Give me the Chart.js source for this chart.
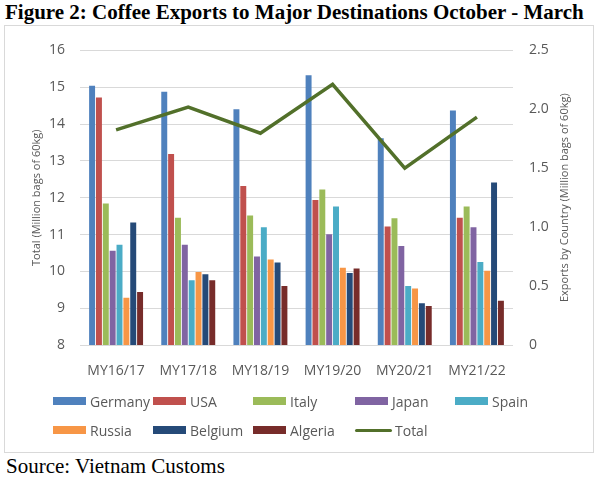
<!DOCTYPE html>
<html>
<head>
<meta charset="utf-8">
<script src="https://cdn.jsdelivr.net/npm/chart.js@4"></script>
<style>
  body { margin: 0; width: 600px; height: 481px; background: #fff; position: relative; overflow: hidden; }
  #title { position: absolute; left: 5px; top: 0; line-height: 24px; font: bold 21px "Liberation Serif", serif; color: #000; white-space: nowrap; }
  #box { position: absolute; left: 4px; top: 25px; width: 588px; height: 426px; border: 1px solid #d9d9d9; }
  #chart { position: absolute; left: 0; top: 0; }
  #legend { position: absolute; left: 0; top: 0; width: 588px; height: 426px; font: 14px "Open Sans", sans-serif; color: #595959; }
  .item { position: absolute; display: flex; align-items: center; height: 20px; white-space: nowrap; }
  .swatch { width: 33px; height: 8px; margin-right: 4px; }
  .line-swatch { width: 37px; height: 3px; border-radius: 2px; margin-right: 3px; }
  #source { position: absolute; left: 6px; top: 454px; font: 21px "Liberation Serif", serif; color: #000; }
</style>
</head>
<body>
<div id="title">Figure 2: Coffee Exports to Major Destinations October - March</div>
<div id="box">
  <canvas id="chart" width="588" height="360"></canvas>
  <div id="legend"></div>
</div>
<div id="source">Source: Vietnam Customs</div>
<script>
// Marketing years (October - March)
const categories = ['MY16/17', 'MY17/18', 'MY18/19', 'MY19/20', 'MY20/21', 'MY21/22'];

// Exports by country (million bags of 60kg, right axis)
const germany = [2.20, 2.15, 2.00, 2.29, 1.755, 1.99];
const usa     = [2.10, 1.62, 1.35, 1.23, 1.005, 1.08];
const italy   = [1.20, 1.08, 1.10, 1.32, 1.075, 1.175];
const japan   = [0.80, 0.85, 0.75, 0.94, 0.84, 1.00];
const spain   = [0.85, 0.55, 1.00, 1.175, 0.50, 0.705];
const russia  = [0.40, 0.62, 0.725, 0.655, 0.48, 0.63];
const belgium = [1.04, 0.60, 0.70, 0.61, 0.355, 1.38];
const algeria = [0.45, 0.55, 0.50, 0.65, 0.33, 0.375];

// Total exports (million bags of 60kg, left axis)
const total = [13.84, 14.46, 13.75, 15.08, 12.80, 14.19];

const leftTicks = [8, 16, 1];
const rightTicks = [0, 2.5, 0.5];

const countries = [
  { label: 'Germany', data: germany, color: '#4F81BD' },
  { label: 'USA',     data: usa,     color: '#C0504D' },
  { label: 'Italy',   data: italy,   color: '#9BBB59' },
  { label: 'Japan',   data: japan,   color: '#8064A2' },
  { label: 'Spain',   data: spain,   color: '#4BACC6' },
  { label: 'Russia',  data: russia,  color: '#F79646' },
  { label: 'Belgium', data: belgium, color: '#254A78' },
  { label: 'Algeria', data: algeria, color: '#772C2A' }
];
const totalColor = '#52702A';

const tickFont = { family: 'Open Sans', size: 14 };
const titleFont = { family: 'Open Sans', size: 11 };
const grey = '#595959';

const datasets = countries.map(c => ({
  type: 'bar',
  label: c.label,
  data: c.data,
  backgroundColor: c.color,
  yAxisID: 'y1',
  order: 1,
  barPercentage: 0.87,
  categoryPercentage: 0.76
}));
datasets.push({
  type: 'line',
  label: 'Total',
  data: total,
  borderColor: totalColor,
  borderWidth: 3.5,
  pointRadius: 0,
  tension: 0,
  yAxisID: 'y',
  order: 0
});

// Right axis title reads bottom-to-top in the original, so draw it ourselves
const rightTitle = {
  id: 'rightTitle',
  afterDraw(chart) {
    const s = chart.scales.y1;
    const ctx = chart.ctx;
    ctx.save();
    ctx.translate(s.right - 28, (s.top + s.bottom) / 2);
    ctx.rotate(-Math.PI / 2);
    ctx.font = titleFont.size + 'px "' + titleFont.family + '"';
    ctx.fillStyle = grey;
    ctx.textAlign = 'center';
    ctx.textBaseline = 'middle';
    ctx.fillText('Exports by Country (Million bags of 60kg)', 0, 0);
    ctx.restore();
  }
};

new Chart(document.getElementById('chart').getContext('2d'), {
  data: { labels: categories, datasets: datasets },
  plugins: [rightTitle],
  options: {
    responsive: false,
    animation: false,
    devicePixelRatio: 1,
    layout: { padding: { top: 19, left: 0, right: 0, bottom: 0 } },
    plugins: { legend: { display: false }, tooltip: { enabled: false } },
    scales: {
      x: {
        grid: { display: false },
        border: { display: false },
        ticks: { font: tickFont, color: grey, padding: 10 },
        afterFit: s => { s.height = 41; }
      },
      y: {
        position: 'left',
        min: leftTicks[0],
        max: leftTicks[1],
        ticks: { stepSize: leftTicks[2], font: tickFont, color: grey, padding: 15 },
        grid: { color: '#d9d9d9', drawTicks: false },
        border: { display: false },
        title: { display: true, text: 'Total (Million bags of 60kg)', font: titleFont, color: grey, padding: { top: 25, bottom: 0 } },
        afterFit: s => { s.width = 75; }
      },
      y1: {
        position: 'right',
        min: rightTicks[0],
        max: rightTicks[1],
        ticks: { stepSize: rightTicks[2], font: tickFont, color: grey, padding: 16 },
        grid: { display: false, drawTicks: false },
        border: { display: false },
        afterFit: s => { s.width = 80; }
      }
    }
  }
});

// Legend laid out in columns like the original
const legend = document.getElementById('legend');
const colX = [48, 148, 248, 350, 450];
const rowY = [365, 394];
const entries = countries.map(c => ({ label: c.label, color: c.color, line: false }));
entries.push({ label: 'Total', color: totalColor, line: true });
entries.forEach((e, i) => {
  const item = document.createElement('div');
  item.className = 'item';
  item.style.left = colX[i % 5] + 'px';
  item.style.top = rowY[Math.floor(i / 5)] + 'px';
  const sw = document.createElement('span');
  sw.className = e.line ? 'line-swatch' : 'swatch';
  sw.style.background = e.color;
  item.appendChild(sw);
  const txt = document.createElement('span');
  txt.textContent = e.label;
  item.appendChild(txt);
  legend.appendChild(item);
});
</script>
</body>
</html>
